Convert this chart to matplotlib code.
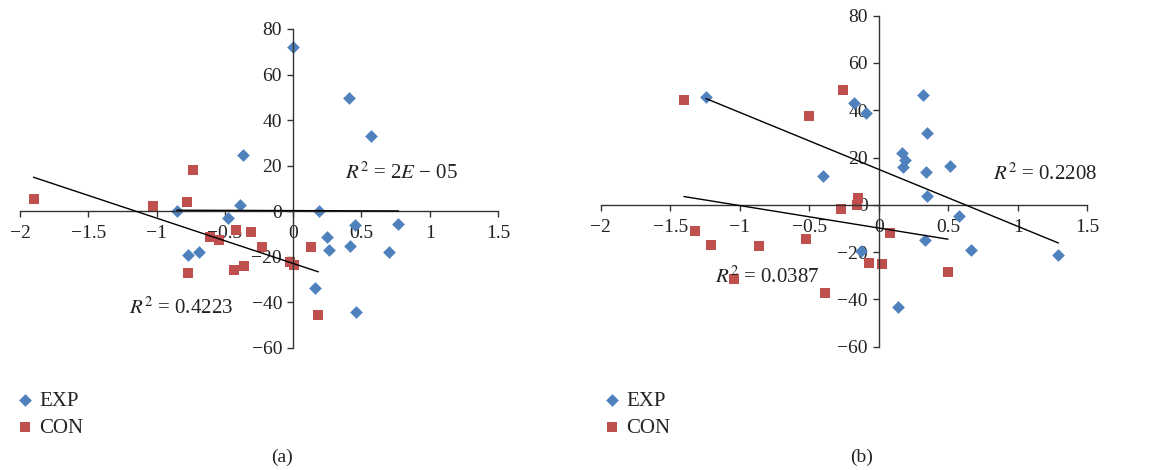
import numpy as np
import matplotlib
matplotlib.use("Agg")
import matplotlib.pyplot as plt

plt.rcParams['font.family'] = ['Liberation Serif', 'DejaVu Serif']
plt.rcParams['mathtext.fontset'] = 'stix'

# panel (a)
a_exp_x = [0.0, 0.41, 0.57, -0.37, -0.39, -0.85, 0.19, -0.48, 0.45, 0.77,
           0.25, 0.26, 0.415, 0.70, -0.69, -0.77, 0.16, 0.46]
a_exp_y = [72, 49.7, 33.2, 24.9, 2.6, 0, 0, -2.9, -6, -5.4,
           -11.5, -16.8, -15.1, -17.8, -17.7, -19.3, -33.5, -44.4]
a_con_x = [-1.90, -1.03, -0.78, -0.73, -0.61, -0.545, -0.415, -0.31, -0.225,
           -0.77, -0.43, -0.36, -0.024, 0.007, 0.132, 0.183]
a_con_y = [5.4, 2.3, 4.1, 18.3, -11.1, -12.6, -8.0, -9.2, -15.8,
           -27.3, -25.6, -24.1, -22.2, -23.5, -15.6, -45.6]
# trend lines (slope, intercept)
a_exp_fit = (-0.2, 0.3)
a_con_fit = (-19.9, -22.9)

# panel (b)
b_exp_x = [-1.24, -0.18, -0.09, 0.32, 0.35, 0.17, 0.19, 0.175, 0.515, 0.34,
           -0.40, 0.35, 0.575, 0.33, 0.66, -0.13, 1.29, 0.14]
b_exp_y = [45.5, 42.9, 39.0, 46.6, 30.3, 21.8, 19.1, 15.9, 16.4, 14.0,
           12.4, 3.9, -4.6, -14.7, -19.2, -19.7, -21.2, -43.4]
b_con_x = [-1.40, -0.26, -0.50, -0.15, -0.16, -0.27, -1.32, -1.21, -0.86,
           -0.52, 0.084, -0.072, 0.024, 0.496, -1.04, -0.39]
b_con_y = [44.4, 48.5, 37.6, 3.0, 0.1, -1.6, -10.9, -17.1, -17.4,
           -14.4, -12.0, -24.6, -24.9, -28.3, -31.5, -37.2]
b_exp_fit = (-24.1, 15.0)
b_con_fit = (-9.5, -9.8)

xticks = [-2, -1.5, -1, -0.5, 0, 0.5, 1, 1.5]
yticks = [-60, -40, -20, 0, 20, 40, 60, 80]

blue = '#4F81BD'
red = '#C0504D'


def fmt(v):
    s = ('%g' % v)
    return s.replace('-', '\u2212')


def panel(ax, ex, ey, cx, cy, efit, cfit):
    ax.scatter(ex, ey, marker='D', s=42, color=blue, lw=0, label='EXP', zorder=2)
    ax.scatter(cx, cy, marker='s', s=62, color=red, lw=0, label='CON', zorder=2)
    for xs, fit in ((ex, efit), (cx, cfit)):
        xx = np.array([min(xs), max(xs)])
        ax.plot(xx, fit[0] * xx + fit[1], color='black', lw=1, zorder=3)
    ax.set_xlim(-2, 1.5)
    ax.set_ylim(-60, 80)
    ax.spines['left'].set_position(('data', 0))
    ax.spines['bottom'].set_position(('data', 0))
    ax.spines['top'].set_visible(False)
    ax.spines['right'].set_visible(False)
    for s in ('left', 'bottom'):
        ax.spines[s].set_color('#333333')
        ax.spines[s].set_linewidth(1)
    ax.set_xticks(xticks)
    ax.set_yticks(yticks)
    ax.set_xticklabels([fmt(v) for v in xticks])
    ax.set_yticklabels([fmt(v) for v in yticks])
    ax.tick_params(direction='out', length=4, width=1, color='#333333',
                   labelsize=14, labelcolor='#222222', pad=4)
    ax.tick_params(axis='x', pad=6)
    ax.patch.set_visible(False)


fig = plt.figure(figsize=(11.51, 4.70), dpi=100)
ax1 = fig.add_axes([0.0174, 0.2596, 0.4153, 0.6787])
ax2 = fig.add_axes([0.5219, 0.2623, 0.4228, 0.7043])

panel(ax1, a_exp_x, a_exp_y, a_con_x, a_con_y, a_exp_fit, a_con_fit)
panel(ax2, b_exp_x, b_exp_y, b_con_x, b_con_y, b_exp_fit, b_con_fit)

tkw = dict(fontsize=15, color='#222222', va='center', ha='left', zorder=4)
ax1.text(0.38, 16.8, '$R^2$ = 2$E$ \u2212 05', **tkw)
ax1.text(-1.20, -42.7, '$R^2$ = 0.4223', **tkw)
ax2.text(0.82, 13.1, '$R^2$ = 0.2208', **tkw)
ax2.text(-1.18, -30.6, '$R^2$ = 0.0387', **tkw)

for ax, lx in ((ax1, 0.006), (ax2, 0.516)):
    ax.legend(loc='upper left', bbox_to_anchor=(lx, 0.185), bbox_transform=fig.transFigure,
              frameon=False, fontsize=15, handletextpad=0.25, labelspacing=0.35,
              handlelength=0.9, borderaxespad=0, labelcolor='#222222')

fig.text(282 / 1151, 0.026, '(a)', ha='center', va='center', fontsize=14, color='#222222')
fig.text(862 / 1151, 0.026, '(b)', ha='center', va='center', fontsize=14, color='#222222')

fig.savefig('out.png', dpi=100)
